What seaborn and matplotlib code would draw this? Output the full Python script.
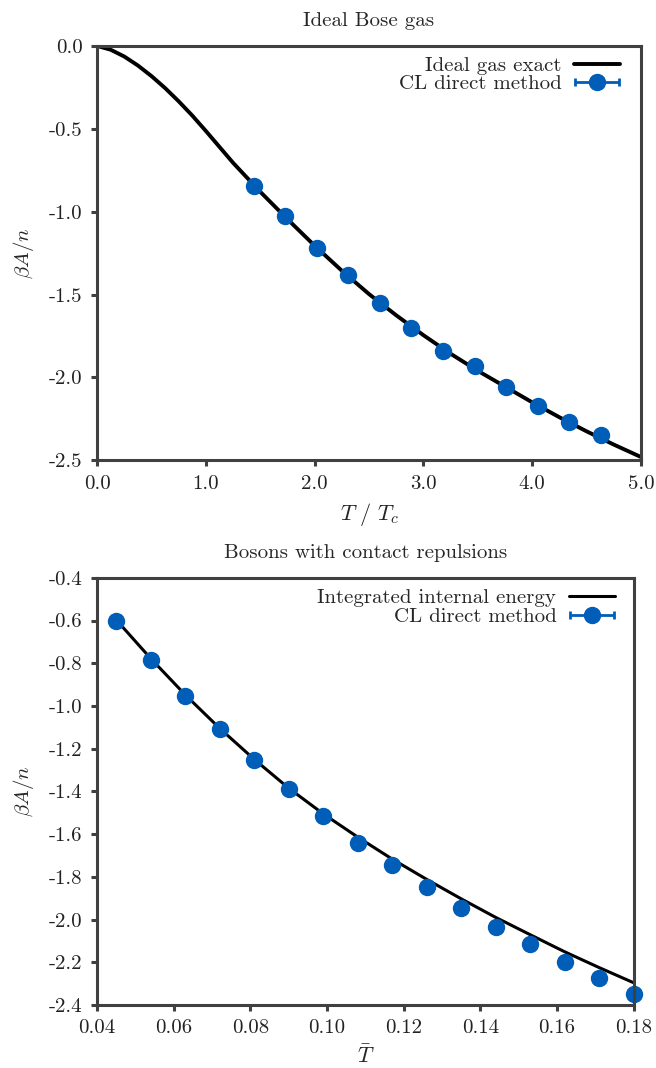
import numpy as np
import pandas as pd
import matplotlib
matplotlib.use('Agg')
import matplotlib.pyplot as plt
from matplotlib.ticker import FormatStrFormatter
from matplotlib.container import ErrorbarContainer
from matplotlib.legend_handler import HandlerErrorbar
import seaborn as sns

# ideal Bose gas: exact curve
t_exact = [0.0, 0.125, 0.25, 0.375, 0.5, 0.625, 0.75, 0.875, 1.0, 1.25, 1.5, 1.75,
           2.0, 2.25, 2.5, 2.75, 3.0, 3.25, 3.5, 3.75, 4.0, 4.25, 4.5, 4.75, 5.0]
a_exact = [0.0, -0.023, -0.064, -0.118, -0.182, -0.254, -0.334, -0.420, -0.513,
           -0.705, -0.880, -1.045, -1.205, -1.356, -1.497, -1.625, -1.745, -1.857,
           -1.960, -2.055, -2.150, -2.240, -2.325, -2.405, -2.480]
# CL direct method points
t_cl = [1.44, 1.73, 2.02, 2.31, 2.60, 2.89, 3.18, 3.47, 3.76, 4.05, 4.34, 4.63]
a_cl = [-0.848, -1.025, -1.219, -1.384, -1.553, -1.704, -1.843, -1.934, -2.056,
        -2.175, -2.270, -2.346]
err_cl = [0.0] * len(t_cl)

# contact repulsions
tb_int = [0.045, 0.054, 0.063, 0.072, 0.081, 0.090, 0.099, 0.108, 0.117, 0.126,
          0.135, 0.144, 0.153, 0.162, 0.171, 0.180]
a_int = [-0.597, -0.778, -0.948, -1.105, -1.250, -1.385, -1.505, -1.614, -1.717,
         -1.812, -1.903, -1.990, -2.071, -2.151, -2.225, -2.296]
tb_cl = [0.045, 0.054, 0.063, 0.072, 0.081, 0.090, 0.099, 0.108, 0.117, 0.126,
         0.135, 0.144, 0.153, 0.162, 0.171, 0.180]
ab_cl = [-0.600, -0.783, -0.952, -1.109, -1.253, -1.389, -1.514, -1.641, -1.745,
         -1.847, -1.944, -2.035, -2.115, -2.197, -2.274, -2.347]
errb_cl = [0.0] * len(tb_cl)

sns.set_theme(style='ticks')
plt.rcParams['font.family'] = ['cmr10', 'DejaVu Serif']
plt.rcParams['mathtext.fontset'] = 'cm'
plt.rcParams['axes.unicode_minus'] = False
plt.rcParams['axes.formatter.use_mathtext'] = False

BLUE = '#005eb8'
GREY = '#404040'
FS = 15

fig = plt.figure(figsize=(6.56, 10.68), dpi=100)
ax1 = fig.add_axes([0.148, 0.569, 0.829, 0.388])
ax2 = fig.add_axes([0.148, 0.059, 0.818, 0.400])


def style(ax):
    for s in ax.spines.values():
        s.set_color(GREY)
        s.set_linewidth(2.2)
    ax.tick_params(direction='out', length=4.5, width=2.2, color=GREY,
                   labelsize=FS, labelcolor='#222222', top=False, right=False, pad=6)


def legend(ax, anchor):
    ax.legend(loc='upper right', bbox_to_anchor=anchor, frameon=False,
              markerfirst=False, fontsize=FS, handlelength=2.2, labelspacing=0.0,
              borderaxespad=0.0, borderpad=0.4, handletextpad=0.6,
              handler_map={ErrorbarContainer: HandlerErrorbar(xerr_size=1.05)})


# top panel
sns.lineplot(x=t_exact, y=a_exact, ax=ax1, color='black', lw=2.8, sort=False,
             label='Ideal gas exact')
ax1.errorbar(t_cl, a_cl, xerr=err_cl, fmt='o', color=BLUE, ms=11.5, capsize=3,
             elinewidth=2, capthick=2, label='CL direct method')
ax1.set_xlim(0, 5)
ax1.set_ylim(-2.5, 0)
ax1.set_xticks([0, 1, 2, 3, 4, 5])
ax1.set_yticks([0, -0.5, -1.0, -1.5, -2.0, -2.5])
ax1.xaxis.set_major_formatter(FormatStrFormatter('%.1f'))
ax1.yaxis.set_major_formatter(FormatStrFormatter('%.1f'))
ax1.set_xlabel(r'$T\ /\ T_c$', fontsize=FS + 1, labelpad=6)
ax1.set_ylabel(r'$\beta A/n$', fontsize=FS, labelpad=9)
ax1.set_title('Ideal Bose gas', fontsize=FS, pad=14)
style(ax1)
legend(ax1, (0.977, 0.995))

# bottom panel
sns.lineplot(x=tb_int, y=a_int, ax=ax2, color='black', lw=2.2, sort=False,
             label='Integrated internal energy')
ax2.errorbar(tb_cl, ab_cl, xerr=errb_cl, fmt='o', color=BLUE, ms=11.5, capsize=3,
             elinewidth=2, capthick=2, label='CL direct method', clip_on=False)
ax2.set_xlim(0.04, 0.18)
ax2.set_ylim(-2.4, -0.4)
ax2.set_xticks([0.04, 0.06, 0.08, 0.10, 0.12, 0.14, 0.16, 0.18])
ax2.set_yticks([-0.4, -0.6, -0.8, -1.0, -1.2, -1.4, -1.6, -1.8, -2.0, -2.2, -2.4])
ax2.xaxis.set_major_formatter(FormatStrFormatter('%.2f'))
ax2.yaxis.set_major_formatter(FormatStrFormatter('%.1f'))
ax2.set_xlabel(r'$\bar{T}$', fontsize=FS + 1, labelpad=5)
ax2.set_ylabel(r'$\beta A/n$', fontsize=FS, labelpad=9)
ax2.set_title('Bosons with contact repulsions', fontsize=FS, pad=14)
style(ax2)
legend(ax2, (0.980, 0.994))

fig.savefig('out.png', dpi=100)
